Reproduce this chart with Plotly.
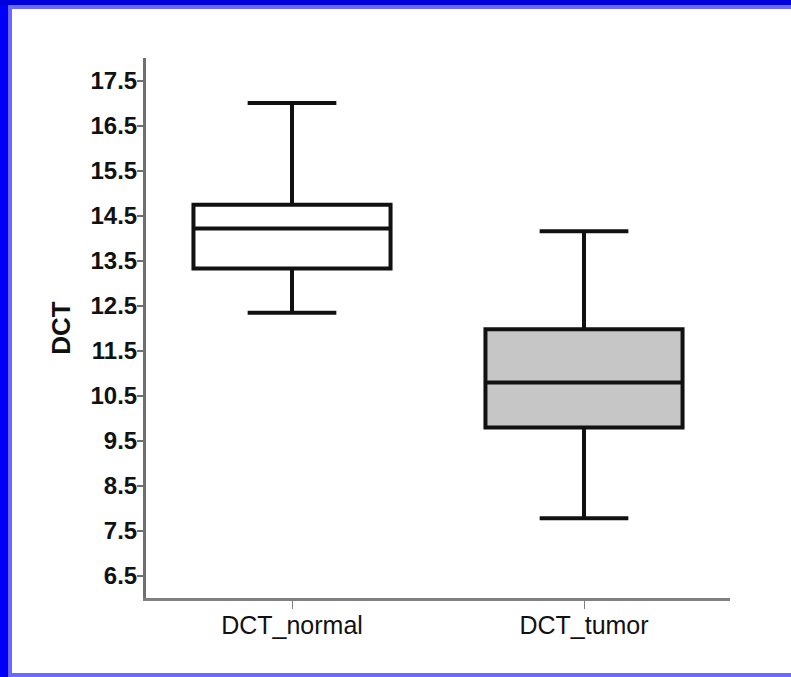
import plotly.graph_objects as go

# ---- data ----
categories = ["DCT_normal", "DCT_tumor"]
q1_vals = [13.32, 9.79]
median_vals = [14.21, 10.79]
q3_vals = [14.74, 11.97]
lower_whisker = [12.34, 7.77]
upper_whisker = [17.00, 14.15]
fill_colors = ["#ffffff", "#c6c6c6"]
y_tick_vals = [6.5, 7.5, 8.5, 9.5, 10.5, 11.5, 12.5, 13.5, 14.5, 15.5, 16.5, 17.5]
y_tick_text = ["6.5", "7.5", "8.5", "9.5", "10.5", "11.5", "12.5", "13.5", "14.5", "15.5", "16.5", "17.5"]

W, H = 791, 677
ML, MR, MT, MB = 146, 61, 58, 79

fig = go.Figure()
for i, cat in enumerate(categories):
    fig.add_trace(go.Box(
        x=[cat],
        q1=[q1_vals[i]], median=[median_vals[i]], q3=[q3_vals[i]],
        lowerfence=[lower_whisker[i]], upperfence=[upper_whisker[i]],
        fillcolor=fill_colors[i],
        line=dict(color="#111111", width=4),
        width=0.675,
        whiskerwidth=0.45,
        boxpoints=False,
        showlegend=False,
        hoverinfo="skip",
    ))

pw, ph = W - ML - MR, H - MT - MB
def px_x(px):
    return (px - ML) / pw
def px_y(py):
    return (H - MB - py) / ph

def rect(px0, px1, py0, py1, color):
    return dict(type="rect", xref="paper", yref="paper",
                x0=px_x(px0), x1=px_x(px1), y0=px_y(py1), y1=px_y(py0),
                fillcolor=color, line=dict(width=0), layer="above")

shapes = [
    rect(0, W, 0, 5, "#0000dd"),
    rect(0, 8, 5, 340, "#0000f8"),
    rect(0, 8, 340, H, "#0000f8"),
    rect(8, 12, 5, 340, "#6a6aff"),
    rect(8, 12, 340, H, "#6a6aff"),
    rect(12, W, 5, 9, "#6a6aff"),
    rect(12, W, 673, H, "#6a6aff"),
]

fig.update_layout(
    width=W, height=H,
    margin=dict(l=ML, r=MR, t=MT, b=MB, pad=0),
    paper_bgcolor="white", plot_bgcolor="white",
    boxmode="overlay",
    shapes=shapes,
    font=dict(family="Arial, Liberation Sans, sans-serif", color="#111111"),
    xaxis=dict(
        type="category", range=[-0.5, 1.5],
        showline=True, linecolor="#808080", linewidth=3,
        ticks="outside", ticklen=8, tickwidth=1, tickcolor="#808080",
        tickfont=dict(size=25, color="#111111"),
        ticklabelstandoff=-5,
        showgrid=False, zeroline=False, automargin=False,
    ),
    yaxis=dict(
        range=[6.0, 18.0],
        tickvals=y_tick_vals, ticktext=y_tick_text,
        showline=True, linecolor="#707070", linewidth=3,
        ticks="outside", ticklen=6, tickwidth=2, tickcolor="#707070",
        tickfont=dict(size=24, color="#111111", weight="bold"),
        ticklabelstandoff=-5,
        title=dict(text="DCT", font=dict(size=26, color="#111111", weight="bold"), standoff=13),
        showgrid=False, zeroline=False, automargin=False,
    ),
)

fig.write_html("out.html")
